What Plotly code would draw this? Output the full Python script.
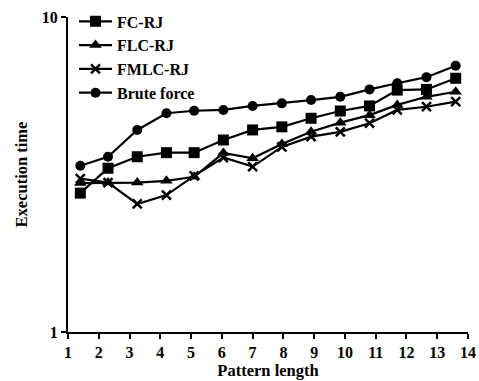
import plotly.graph_objects as go

pattern_length = [1.4, 2.3, 3.25, 4.2, 5.1, 6.05, 7.0, 7.95, 8.9, 9.85, 10.8, 11.7, 12.65, 13.6]
fc_rj = [2.76, 3.31, 3.60, 3.71, 3.71, 4.07, 4.38, 4.48, 4.77, 5.03, 5.22, 5.86, 5.89, 6.39]
flc_rj = [2.97, 2.98, 2.98, 3.02, 3.11, 3.70, 3.56, 3.95, 4.32, 4.62, 4.88, 5.26, 5.58, 5.79]
fmlc_rj = [3.07, 2.98, 2.55, 2.72, 3.13, 3.58, 3.35, 3.87, 4.17, 4.32, 4.60, 5.07, 5.19, 5.39]
brute_force = [3.37, 3.60, 4.38, 4.95, 5.04, 5.07, 5.22, 5.32, 5.45, 5.58, 5.89, 6.16, 6.44, 7.00]
x_ticks = list(range(1, 15))

series = [
    ("FC-RJ", fc_rj, dict(symbol="square", size=11)),
    ("FLC-RJ", flc_rj, dict(symbol="triangle-up", size=11)),
    ("FMLC-RJ", fmlc_rj, dict(symbol="x-thin", size=9, line=dict(width=2.5, color="black"))),
    ("Brute force", brute_force, dict(symbol="circle", size=10)),
]

fig = go.Figure()
for name, vals, marker in series:
    fig.add_trace(go.Scatter(
        x=pattern_length, y=vals, name=name, mode="lines+markers",
        line=dict(color="black", width=2.2),
        marker=dict(color="black", **marker),
    ))

ff = "Liberation Serif"
bold = dict(family=ff, color="black", weight="bold")
fig.update_layout(
    template="none",
    width=479, height=381,
    margin=dict(l=68, r=11, t=17, b=49, autoexpand=False),
    paper_bgcolor="white", plot_bgcolor="white",
    font=dict(family=ff, size=16, color="black"),
    showlegend=True,
    hovermode=False,
    legend=dict(x=0.015, y=1.04, xanchor="left", yanchor="top",
                bgcolor="rgba(0,0,0,0)", borderwidth=0, font=dict(size=16, **bold),
                tracegroupgap=0, itemwidth=33),
    xaxis=dict(
        range=[1, 14], tickmode="array", tickvals=x_ticks,
        ticktext=[str(v) for v in x_ticks],
        showgrid=False, zeroline=False, automargin=False,
        showline=True, linecolor="black", linewidth=2,
        ticks="outside", ticklen=5, tickwidth=2, tickcolor="black",
        title=dict(text="Pattern length", standoff=0, font=dict(size=16.5, **bold)),
        tickfont=dict(size=16, **bold),
    ),
    yaxis=dict(
        type="log", range=[0, 1], tickmode="array", tickvals=[1, 10],
        ticktext=["1", "10"],
        showgrid=False, zeroline=False, automargin=False,
        showline=True, linecolor="black", linewidth=2,
        ticks="outside", ticklen=5, tickwidth=2, tickcolor="black",
        title=dict(text="Execution time", standoff=10, font=dict(size=16.5, **bold)),
        tickfont=dict(size=16, **bold),
    ),
)

fig.write_html("out.html", config={"displayModeBar": False, "staticPlot": True},
               post_script="document.body.style.margin='0';document.body.style.overflow='hidden';")
